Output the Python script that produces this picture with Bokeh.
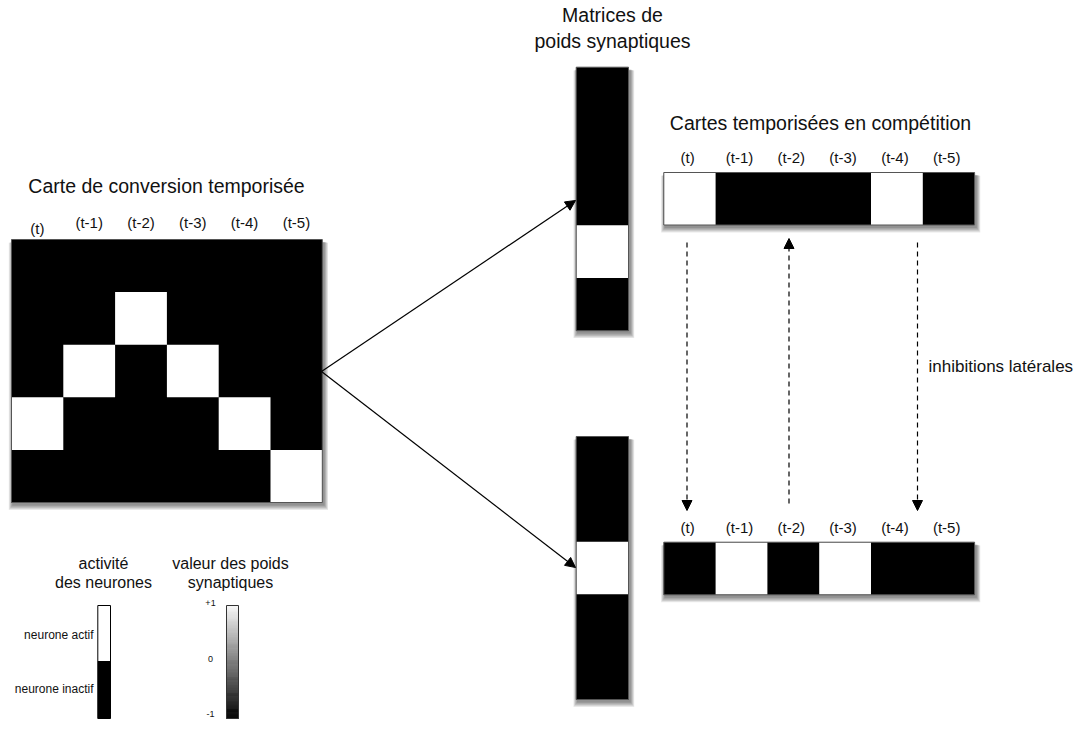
from bokeh.plotting import figure
from bokeh.models import Range1d, Arrow, NormalHead
from bokeh.core.properties import value
from bokeh.embed import file_html
from bokeh.resources import INLINE
import numpy as np

FONT = value("Liberation Sans")

# ---------------- data ----------------
time_labels = ["(t)", "(t-1)", "(t-2)", "(t-3)", "(t-4)", "(t-5)"]
# 1 = active (white), 0 = inactive (black)
conversion_map = [
    [0, 0, 0, 0, 0, 0],
    [0, 0, 1, 0, 0, 0],
    [0, 1, 0, 1, 0, 0],
    [1, 0, 0, 0, 1, 0],
    [0, 0, 0, 0, 0, 1],
]
weights_top = [0, 0, 0, 1, 0]
weights_bottom = [0, 0, 1, 0, 0]
competition_top = [1, 0, 0, 0, 1, 0]
competition_bottom = [0, 1, 0, 1, 0, 0]
activity_legend = ["neurone actif", "neurone inactif"]
weight_ticks = ["+1", "0", "-1"]
weight_tick_values = [1, 0, -1]

title_conv = "Carte de conversion temporisée"
title_weights = ["Matrices de", "poids synaptiques"]
title_comp = "Cartes temporisées en compétition"
label_inhib = "inhibitions latérales"
legend_titles_activity = ["activité", "des neurones"]
legend_titles_weights = ["valeur des poids", "synaptiques"]

# ---------------- figure (data units = picture pixels) ----------------
p = figure(width=1074, height=720, x_range=Range1d(0, 1074), y_range=Range1d(720, 0),
           output_backend="svg", toolbar_location=None, min_border=0,
           x_axis_location=None, y_axis_location=None)
p.grid.visible = False
p.outline_line_color = None
p.background_fill_color = "white"


def shadow(l, t, r, b):
    for k in range(1, 7):
        p.quad(left=[l - k * 0.7 + 1.5], right=[r + k * 0.7 + 1.5],
               top=[t + 2 + k * 0.2], bottom=[b + 2 + k * 0.9],
               fill_color="black", fill_alpha=0.085, line_color=None)


def block(x0, y0, cw, ch, matrix):
    rows = len(matrix)
    cols = len(matrix[0])
    shadow(x0, y0, x0 + cols * cw, y0 + rows * ch)
    p.quad(left=[x0], right=[x0 + cols * cw], top=[y0], bottom=[y0 + rows * ch],
           fill_color="black", line_color=None)
    L, R, T, B = [], [], [], []
    for i, row in enumerate(matrix):
        for j, v in enumerate(row):
            if v:
                L.append(x0 + j * cw)
                R.append(x0 + (j + 1) * cw)
                T.append(y0 + i * ch)
                B.append(y0 + (i + 1) * ch)
    p.quad(left=L, right=R, top=T, bottom=B, fill_color="white", line_color=None)
    p.quad(left=[x0], right=[x0 + cols * cw], top=[y0], bottom=[y0 + rows * ch],
           fill_color=None, line_color="#555555", line_width=1)


def labels(xs, ys, texts, size, align="center"):
    p.text(x=xs, y=ys, text=texts, text_font=FONT, text_font_size=size,
           text_align=align, text_baseline="middle", text_color="#111111")


# main conversion map
cx0, cy0, ccw, cch = 11, 239, 51.8, 52.6
block(cx0, cy0, ccw, cch, conversion_map)
lab_x = [cx0 + (j + 0.5) * ccw for j in range(len(time_labels))]
lab_y = [228] + [222] * (len(time_labels) - 1)
labels(lab_x, lab_y, time_labels, "15px")
labels([166], [185], [title_conv], "19.5px")

# weight matrices
block(575.7, 66.7, 52.3, 52.7, [[v] for v in weights_top])
block(575.7, 436, 52.3, 52.6, [[v] for v in weights_bottom])
labels([612, 612], [14, 40], title_weights, "19.5px")

# competition maps
kx0, kcw = 663.3, 51.8
block(kx0, 172, kcw, 52.5, [competition_top])
block(kx0, 541.7, kcw, 52.6, [competition_bottom])
kx = [kx0 + (j + 0.5) * kcw - 2 for j in range(len(time_labels))]
labels(kx, [157] * 6, time_labels, "15px")
labels(kx, [527] * 6, time_labels, "15px")
labels([820], [122], [title_comp], "19.5px")

# solid arrows
for ye in (200, 567):
    p.add_layout(Arrow(x_start=321, y_start=371, x_end=575, y_end=ye,
                       line_color="black", line_width=1.2,
                       end=NormalHead(size=10, fill_color="black", line_color="black")))

# dashed arrows (lateral inhibition)
for xs, ys, ye in ((686.5, 242, 510), (788.5, 503, 238), (917, 242, 510)):
    p.add_layout(Arrow(x_start=xs, y_start=ys, x_end=xs, y_end=ye,
                       line_color="black", line_width=1.2, line_dash="5 4",
                       end=NormalHead(size=10, fill_color="black", line_color="black")))
labels([928], [366], [label_inhib], "17px", align="left")

# legend titles
labels([103, 103], [563, 582], legend_titles_activity, "16px")
labels([230, 230], [563, 582], legend_titles_weights, "16px")

# legend: activity bar
ay0, ay1 = 605, 718
amid = (ay0 + ay1) / 2 - 1
p.quad(left=[97.3], right=[110], top=[ay0], bottom=[amid], fill_color="white", line_color=None)
p.quad(left=[97.3], right=[110], top=[amid], bottom=[ay1], fill_color="black", line_color=None)
p.quad(left=[97.3], right=[110], top=[ay0], bottom=[ay1], fill_color=None, line_color="black", line_width=1)
labels([93, 93], [634, 688], activity_legend, "12px", align="right")

# legend: weights gradient
n = 120
vals = np.linspace(1, -1, n)
edges = np.linspace(ay0, ay1, n + 1)
grays = ["#%02x%02x%02x" % ((int(round((v + 1) / 2 * 248)),) * 3) for v in vals]
p.quad(left=[226] * n, right=[238] * n, top=edges[:-1], bottom=edges[1:],
       fill_color=grays, line_color=grays, line_width=0.6)
p.quad(left=[226], right=[238], top=[ay0], bottom=[ay1], fill_color=None,
       line_color="#333333", line_width=1)
tick_y = [ay0 + (1 - v) / 2 * (ay1 - ay0) for v in weight_tick_values]
tick_y = [tick_y[0] - 3, tick_y[1] - 3, tick_y[2] - 5]
labels([210] * 3, tick_y, weight_ticks, "9px")

open("out.html", "w").write(file_html(p, INLINE))
